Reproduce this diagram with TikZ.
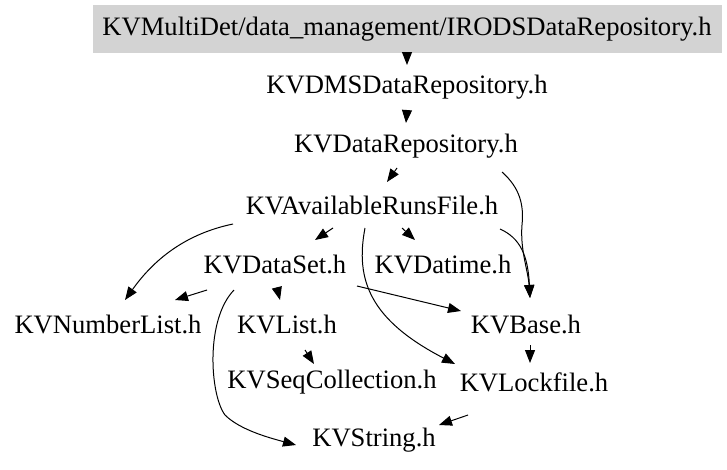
\documentclass[tikz,border=0pt]{standalone}
\usepackage{fontspec}
\setmainfont{Liberation Serif}
\usetikzlibrary{arrows.meta}
\definecolor{boxgray}{RGB}{211,211,211}
\tikzset{
  lbl/.style={inner sep=0pt, font=\fontsize{26.6}{30}\selectfont},
  edge/.style={draw=black, line width=1pt, -{Triangle[length=13pt,width=10pt]}},
}
\begin{document}
\begin{tikzpicture}[x=1pt,y=-1pt]
\useasboundingbox[fill=white] (0,0) rectangle (727,469);
\fill[boxgray] (93,5) rectangle (722,53);
\node[lbl] (irods) at (407,29) {KVMultiDet/data\_management/IRODSDataRepository.h};
\node[lbl] (dms) at (407,87) {KVDMSDataRepository.h};
\node[lbl] (drepo) at (406,146) {KVDataRepository.h};
\node[lbl] (avail) at (372,205) {KVAvailableRunsFile.h};
\node[lbl] (dataset) at (275,264) {KVDataSet.h};
\node[lbl] (datime) at (443,264) {KVDatime.h};
\node[lbl] (numlist) at (108,324) {KVNumberList.h};
\node[lbl] (list) at (287,324) {KVList.h};
\node[lbl] (base) at (526,324) {KVBase.h};
\node[lbl] (seq) at (332,382) {KVSeqCollection.h};
\node[lbl] (lock) at (534,382) {KVLockfile.h};
\node[lbl] (str) at (374,440) {KVString.h};

\draw[edge] ([shift={(0,24)}]irods.center) -- ([shift={(0,-22)}]dms.center);
\draw[edge] ([shift={(0,23)}]dms.center) -- ([shift={(0,-23)}]drepo.center);
\draw[edge] ([shift={(-9,22)}]drepo.center) -- ([shift={(15,-23)}]avail.center);
\draw[edge] ([shift={(96,26)}]drepo.center) .. controls (520,188) and (524,205) .. (522,225) .. controls (520,250) and (528,270) .. ([shift={(4,-26)}]base.center);
\draw[edge] ([shift={(-139,19)}]avail.center) .. controls (180,235) and (150,265) .. ([shift={(17,-24)}]numlist.center);
\draw[edge] ([shift={(-39,23)}]avail.center) -- ([shift={(40,-24)}]dataset.center);
\draw[edge] ([shift={(30,23)}]avail.center) -- ([shift={(-28,-24)}]datime.center);
\draw[edge] ([shift={(-7,23)}]avail.center) .. controls (355,280) and (370,320) .. ([shift={(-79,-18)}]lock.center);
\draw[edge] ([shift={(128,24)}]avail.center) .. controls (520,238) and (528,255) .. ([shift={(4,-26)}]base.center);
\draw[edge] ([shift={(-68,26)}]dataset.center) -- ([shift={(67,-24)}]numlist.center);
\draw[edge] ([shift={(2,24)}]dataset.center) -- ([shift={(-7,-24)}]list.center);
\draw[edge] ([shift={(-41,26)}]dataset.center) .. controls (205,320) and (210,395) .. (225,415) .. controls (240,430) and (270,438) .. ([shift={(-78,5)}]str.center);
\draw[edge] ([shift={(82,22)}]dataset.center) -- ([shift={(-65,-13)}]base.center);
\draw[edge] ([shift={(18,26)}]list.center) -- ([shift={(-18,-18)}]seq.center);
\draw[edge] ([shift={(4,21)}]base.center) -- ([shift={(-4,-19)}]lock.center);
\draw[edge] ([shift={(-66,33)}]lock.center) -- ([shift={(65,-15)}]str.center);
\end{tikzpicture}
\end{document}
